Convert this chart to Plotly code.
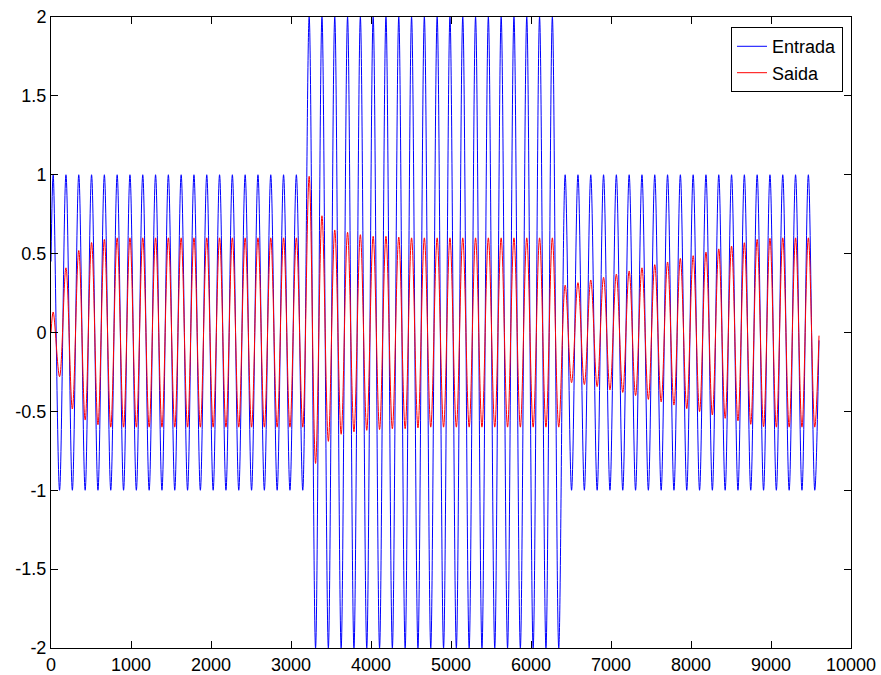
import plotly.graph_objects as go

# Sample index of each extremum (start, alternating peak/trough, end)
ext_x = [0,
         27, 107, 187, 267, 347, 427, 507, 587, 667, 747,
         827, 907, 987, 1067, 1147, 1227, 1307, 1387, 1467, 1547,
         1627, 1707, 1787, 1867, 1947, 2027, 2107, 2187, 2267, 2347,
         2427, 2507, 2587, 2667, 2747, 2827, 2907, 2987, 3067, 3147,
         3227, 3307, 3387, 3467, 3547, 3627, 3707, 3787, 3867, 3947,
         4027, 4107, 4187, 4267, 4347, 4427, 4507, 4587, 4667, 4747,
         4827, 4907, 4987, 5067, 5147, 5227, 5307, 5387, 5467, 5547,
         5627, 5707, 5787, 5867, 5947, 6027, 6107, 6187, 6267, 6347,
         6427, 6507, 6587, 6667, 6747, 6827, 6907, 6987, 7067, 7147,
         7227, 7307, 7387, 7467, 7547, 7627, 7707, 7787, 7867, 7947,
         8027, 8107, 8187, 8267, 8347, 8427, 8507, 8587, 8667, 8747,
         8827, 8907, 8987, 9067, 9147, 9227, 9307, 9387, 9467, 9547,
         9600]

# Entrada (input) values at those extrema
entrada = [0.45,
           1, -1, 1, -1, 1, -1, 1, -1, 1, -1,
           1, -1, 1, -1, 1, -1, 1, -1, 1, -1,
           1, -1, 1, -1, 1, -1, 1, -1, 1, -1,
           1, -1, 1, -1, 1, -1, 1, -1, 1, -1,
           2, -2, 2, -2, 2, -2, 2, -2, 2, -2,
           2, -2, 2, -2, 2, -2, 2, -2, 2, -2,
           2, -2, 2, -2, 2, -2, 2, -2, 2, -2,
           2, -2, 2, -2, 2, -2, 2, -2, 2, -2,
           1, -1, 1, -1, 1, -1, 1, -1, 1, -1,
           1, -1, 1, -1, 1, -1, 1, -1, 1, -1,
           1, -1, 1, -1, 1, -1, 1, -1, 1, -1,
           1, -1, 1, -1, 1, -1, 1, -1, 1, -1,
           -0.05]

# Saida (output) values at those extrema
saida = [0.0,
         0.13, -0.28, 0.41, -0.485, 0.52, -0.555, 0.57, -0.585, 0.59, -0.60,
         0.60, -0.60, 0.60, -0.60, 0.60, -0.60, 0.60, -0.60, 0.60, -0.60,
         0.60, -0.60, 0.60, -0.60, 0.60, -0.60, 0.60, -0.60, 0.60, -0.60,
         0.60, -0.60, 0.60, -0.60, 0.60, -0.60, 0.60, -0.60, 0.60, -0.60,
         0.99, -0.83, 0.74, -0.69, 0.65, -0.645, 0.635, -0.63, 0.62, -0.62,
         0.61, -0.615, 0.61, -0.61, 0.605, -0.61, 0.60, -0.605, 0.60, -0.60,
         0.60, -0.60, 0.60, -0.60, 0.60, -0.60, 0.60, -0.60, 0.60, -0.60,
         0.60, -0.60, 0.60, -0.60, 0.60, -0.60, 0.60, -0.60, 0.60, -0.60,
         0.30, -0.318, 0.316, -0.33, 0.333, -0.343, 0.35, -0.364, 0.37, -0.38,
         0.39, -0.40, 0.41, -0.424, 0.43, -0.44, 0.447, -0.46, 0.47, -0.483,
         0.487, -0.502, 0.51, -0.523, 0.53, -0.544, 0.548, -0.56, 0.569, -0.582,
         0.59, -0.597, 0.597, -0.60, 0.60, -0.60, 0.60, -0.60, 0.60, -0.60,
         -0.02]

x_tick_vals = [0, 1000, 2000, 3000, 4000, 5000, 6000, 7000, 8000, 9000, 10000]
x_tick_text = ["0", "1000", "2000", "3000", "4000", "5000", "6000", "7000", "8000", "9000", "10000"]
y_tick_vals = [-2, -1.5, -1, -0.5, 0, 0.5, 1, 1.5, 2]
y_tick_text = ["-2", "-1.5", "-1", "-0.5", "0", "0.5", "1", "1.5", "2"]

fig = go.Figure()
fig.add_trace(go.Scatter(x=ext_x, y=entrada, mode="lines", name="Entrada",
                         line=dict(color="#0000FF", width=1, shape="spline", smoothing=1)))
fig.add_trace(go.Scatter(x=ext_x, y=saida, mode="lines", name="Saida",
                         line=dict(color="#FF0000", width=1, shape="spline", smoothing=1)))

font = dict(family="Arial, Liberation Sans, sans-serif", size=18, color="black")
axis_common = dict(showgrid=False, zeroline=False, showline=True, linecolor="black",
                   linewidth=1, mirror="allticks", ticks="inside", ticklen=7,
                   tickcolor="black", tickfont=font, automargin=False)

fig.update_layout(
    width=881, height=675,
    margin=dict(l=51, r=30, t=17, b=27, autoexpand=False),
    paper_bgcolor="white", plot_bgcolor="white",
    showlegend=True,
    legend=dict(x=0.99, y=0.984, xanchor="right", yanchor="top",
                bgcolor="white", bordercolor="black", borderwidth=1,
                font=font, tracegroupgap=0),
    xaxis=dict(range=[0, 10000], tickvals=x_tick_vals, ticktext=x_tick_text, **axis_common),
    yaxis=dict(range=[-2, 2], tickvals=y_tick_vals, ticktext=y_tick_text, **axis_common),
)

fig.write_html("out.html")
